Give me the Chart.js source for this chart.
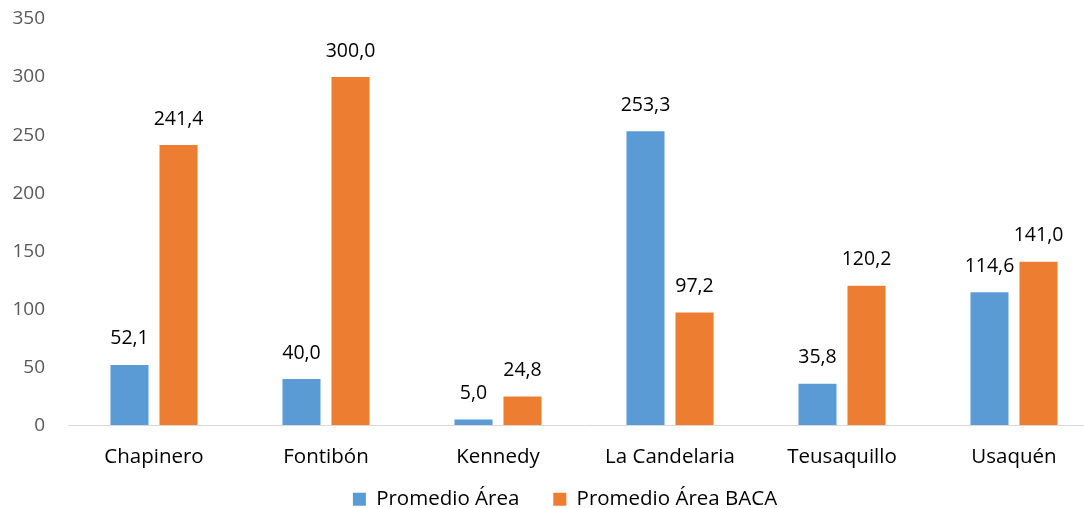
<!DOCTYPE html>
<html>
<head>
<meta charset="utf-8">
<script src="https://cdn.jsdelivr.net/npm/chart.js@4/dist/chart.umd.min.js"></script>
<style>
  html, body { margin: 0; padding: 0; background: #fff; overflow: hidden; }
  #wrap { width: 1084px; height: 508px; overflow: hidden; }
  canvas { display: block; }
</style>
</head>
<body>
<div id="wrap"><canvas id="barChart" width="1100" height="508"></canvas></div>
<script>
// Datos de la gráfica
const localidades = ['Chapinero', 'Fontibón', 'Kennedy', 'La Candelaria', 'Teusaquillo', 'Usaquén'];
const promedioArea = [52.1, 40.0, 5.0, 253.3, 35.8, 114.6];
const promedioAreaBaca = [241.4, 300.0, 24.8, 97.2, 120.2, 141.0];
const ejeY = [0, 50, 100, 150, 200, 250, 300, 350];

const fuente = '"Open Sans", "Noto Sans", sans-serif';

// Etiquetas de valor encima de cada barra
const etiquetasValor = {
    id: 'etiquetasValor',
    afterDatasetsDraw(chart) {
        const ctx = chart.ctx;
        ctx.save();
        ctx.font = '19.5px ' + fuente;
        ctx.fillStyle = '#000';
        ctx.textAlign = 'center';
        ctx.textBaseline = 'middle';
        chart.data.datasets.forEach((ds, i) => {
            chart.getDatasetMeta(i).data.forEach((bar, j) => {
                const txt = ds.data[j].toFixed(1).replace('.', ',');
                ctx.fillText(txt, bar.x, bar.y - 26);
            });
        });
        ctx.restore();
    }
};

// La leyenda usa padding grande para separar los items; se compacta su alto
const leyendaCompacta = {
    id: 'leyendaCompacta',
    beforeInit(chart) {
        const fitOrig = chart.legend.fit;
        chart.legend.fit = function() {
            fitOrig.call(this);
            this.height = 28;
        };
    },
    afterLayout(chart) {
        const lg = chart.legend;
        lg.top -= 25;
        lg.left += 15;
        lg.right += 15;
    }
};

const ctx = document.getElementById('barChart').getContext('2d');
new Chart(ctx, {
    type: 'bar',
    data: {
        labels: localidades,
        datasets: [{
            label: 'Promedio Área',
            data: promedioArea,
            backgroundColor: '#5B9BD5',
            categoryPercentage: 0.57,
            barPercentage: 0.776
        }, {
            label: 'Promedio Área BACA',
            data: promedioAreaBaca,
            backgroundColor: '#ED7D31',
            categoryPercentage: 0.57,
            barPercentage: 0.776
        }]
    },
    options: {
        responsive: false,
        animation: false,
        layout: { padding: { top: 19, bottom: 0, right: 0, left: 0 } },
        plugins: {
            legend: {
                position: 'bottom',
                labels: {
                    boxWidth: 13,
                    boxHeight: 13,
                    padding: 34,
                    color: '#000',
                    font: { family: fuente, size: 20.5 }
                }
            },
            tooltip: { enabled: false }
        },
        scales: {
            x: {
                grid: { display: false },
                border: { color: '#d9d9d9', width: 1 },
                ticks: {
                    color: '#000',
                    padding: 11,
                    font: { family: fuente, size: 20.5 }
                }
            },
            y: {
                min: 0,
                max: 350,
                grid: {
                    display: true,
                    drawOnChartArea: false,
                    drawTicks: true,
                    tickLength: 20,
                    color: 'rgba(0,0,0,0)'
                },
                border: { display: false },
                afterFit(scale) { scale.width = 68; },
                afterBuildTicks(scale) {
                    scale.ticks = ejeY.map(v => ({ value: v }));
                },
                ticks: {
                    color: '#595959',
                    padding: 3,
                    font: { family: fuente, size: 19 }
                }
            }
        }
    },
    plugins: [etiquetasValor, leyendaCompacta]
});
</script>
</body>
</html>
